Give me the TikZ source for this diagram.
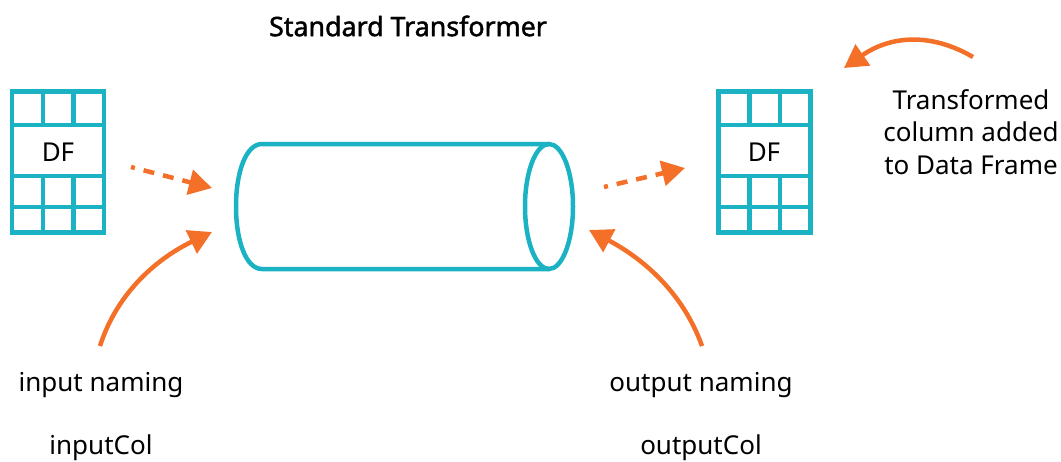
\documentclass[tikz,border=0pt]{standalone}
\usepackage{fontspec}
\setmainfont{Noto Sans}
\newfontfamily\titlefont[FakeBold=1.6]{Noto Sans}
\usetikzlibrary{arrows.meta}
\definecolor{teal1}{HTML}{1BB3C4}
\definecolor{orange1}{HTML}{F47028}
\tikzset{
  x=1pt,y=-1pt,
  gridline/.style={draw=teal1,line width=4.5pt},
  cyl/.style={draw=teal1,line width=4.5pt},
  solidarrow/.style={draw=orange1,line width=4.5pt,-{Triangle[length=23pt,width=25pt,fill=orange1]}},
  dotarrow/.style={solidarrow,dash pattern=on 4pt off 9pt on 11pt off 9pt on 11pt off 9pt on 11pt off 9pt on 11pt off 9pt},
  label/.style={text=black,font=\fontsize{26}{32.5}\selectfont,align=center,inner sep=0pt,anchor=center},
  titlelabel/.style={label,font=\titlefont\fontsize{26.8}{32}\selectfont},
}
\newcommand{\dfgrid}[1]{%
  \begin{scope}[shift={(#1,0)}]
    \draw[gridline] (0,91.5) rectangle (92,232.5);
    \draw[gridline] (0,125) -- (92,125) (0,176) -- (92,176) (0,207) -- (92,207);
    \draw[gridline] (31,91.5) -- (31,125) (31,178) -- (31,235);
    \draw[gridline] (61.5,91.5) -- (61.5,125) (61.5,176) -- (61.5,232.5);
  \end{scope}}
\begin{document}
\begin{tikzpicture}
\useasboundingbox (0,0) rectangle (1061,461);
\dfgrid{12}
\dfgrid{718.5}
\node[label] (dfa) at (58,152) {DF};
\node[label] (dfb) at (764,152) {DF};
\node[titlelabel] (title) at (408,26) {Standard Transformer};
\draw[cyl] (549,144) -- (262,144) .. controls (246,144) and (236,172) .. (236,206.5) .. controls (236,241) and (246,269) .. (262,269) -- (549,269);
\draw[cyl] (549,206.5) ellipse [x radius=24, y radius=62.5];
\node[label] (inp) at (101,385) {input naming};
\node[label] (inc) at (101,448) {inputCol};
\node[label] (outp) at (701,385) {output naming};
\node[label] (outc) at (701,448) {outputCol};
\node[label] (tr) at (971,132) {Transformed\\column added\\to Data Frame};
\coordinate (a1) at (131,167); \coordinate (a2) at (212,188);
\coordinate (b1) at (604,187); \coordinate (b2) at (685,168);
\coordinate (c1) at (100,346); \coordinate (c2) at (212,232);
\coordinate (d1) at (702,346); \coordinate (d2) at (589,230);
\coordinate (e1) at (973,57); \coordinate (e2) at (844,68);
\draw[dotarrow] (a1) -- (a2);
\draw[dotarrow] (b1) -- (b2);
\draw[solidarrow] (c1) .. controls (118,290) and (160,257) .. (c2);
\draw[solidarrow] (d1) .. controls (682,290) and (640,257) .. (d2);
\draw[solidarrow] (e1) .. controls (930,32) and (890,36) .. (e2);
\end{tikzpicture}
\end{document}
